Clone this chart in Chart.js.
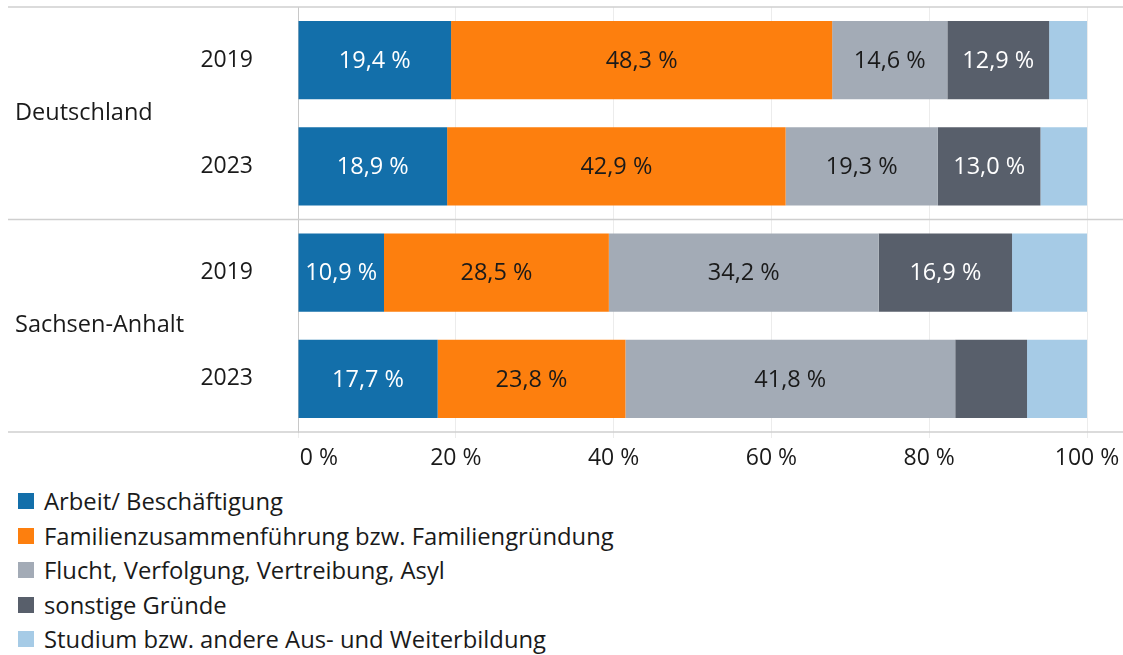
<!DOCTYPE html>
<html lang="de">
<head>
<meta charset="utf-8">
<script src="https://cdn.jsdelivr.net/npm/chart.js@4.4.1/dist/chart.umd.min.js"></script>
<style>
    body { margin: 0; background: #fff; font-family: "Open Sans", sans-serif; }
    #wrap { position: relative; width: 1123px; height: 480px; }
    #legende { position: absolute; left: 18px; top: 484px; }
    .leg-item { display: flex; align-items: center; height: 34.5px; font-size: 23.8px; color: #1a1a1a; }
    .leg-box { width: 16px; height: 16px; margin-right: 10px; }
</style>
</head>
<body>
<div id="wrap"><canvas id="gruendeChart"></canvas></div>
<div id="legende"></div>
<script>
const jahre = ['2019', '2023', '2019', '2023'];
const regionen = ['Deutschland', 'Sachsen-Anhalt'];
const xTicks = [0, 20, 40, 60, 80, 100];

const arbeit = [19.4, 18.9, 10.9, 17.7];
const familie = [48.3, 42.9, 28.5, 23.8];
const flucht = [14.6, 19.3, 34.2, 41.8];
const sonstige = [12.9, 13.0, 16.9, 9.1];
const studium = [4.8, 5.9, 9.5, 7.6];

const serien = [
    { label: 'Arbeit/ Beschäftigung', data: arbeit, color: '#136faa', text: '#ffffff' },
    { label: 'Familienzusammenführung bzw. Familiengründung', data: familie, color: '#fd7f0e', text: '#1a1a1a' },
    { label: 'Flucht, Verfolgung, Vertreibung, Asyl', data: flucht, color: '#a3abb6', text: '#1a1a1a' },
    { label: 'sonstige Gründe', data: sonstige, color: '#585f6b', text: '#ffffff' },
    { label: 'Studium bzw. andere Aus- und Weiterbildung', data: studium, color: '#a6cbe6', text: null }
];

const FONT = '"Open Sans", sans-serif';

// Trennlinien zwischen den Regionen + Regionsnamen
const gruppenPlugin = {
    id: 'gruppen',
    beforeDatasetsDraw(chart) {
        const { ctx, chartArea, scales: { y } } = chart;
        const half = (y.getPixelForValue(1) - y.getPixelForValue(0)) / 2;
        const linien = [chartArea.top, y.getPixelForValue(1) + half, chartArea.bottom];
        ctx.save();
        ctx.strokeStyle = '#cfcfcf';
        ctx.lineWidth = 1.5;
        linien.forEach(py => {
            ctx.beginPath();
            ctx.moveTo(8, py);
            ctx.lineTo(chart.width, py);
            ctx.stroke();
        });
        ctx.restore();
    },
    afterDraw(chart) {
        const { ctx, scales: { y } } = chart;
        ctx.save();
        ctx.font = '23.5px ' + FONT;
        ctx.fillStyle = '#1a1a1a';
        ctx.textAlign = 'left';
        ctx.textBaseline = 'middle';
        regionen.forEach((r, i) => {
            const py = (y.getPixelForValue(i * 2) + y.getPixelForValue(i * 2 + 1)) / 2;
            ctx.fillText(r, 15, py);
        });
        ctx.restore();
    }
};

// Prozentwerte in den Balken
const wertePlugin = {
    id: 'werte',
    afterDatasetsDraw(chart) {
        const { ctx } = chart;
        ctx.save();
        ctx.font = '23.5px ' + FONT;
        ctx.textAlign = 'center';
        ctx.textBaseline = 'middle';
        chart.data.datasets.forEach((ds, i) => {
            if (!serien[i].text) return;
            const meta = chart.getDatasetMeta(i);
            meta.data.forEach((bar, j) => {
                const v = ds.data[j];
                if (v < 10) return;
                ctx.fillStyle = serien[i].text;
                ctx.fillText(v.toFixed(1).replace('.', ',') + ' %', (bar.x + bar.base) / 2, bar.y + 1);
            });
        });
        ctx.restore();
    }
};

const chart = new Chart(document.getElementById('gruendeChart'), {
    type: 'bar',
    data: {
        labels: jahre,
        datasets: serien.map(s => ({
            label: s.label,
            data: s.data,
            backgroundColor: s.color,
            borderWidth: 0,
            categoryPercentage: 1,
            barPercentage: 0.735
        }))
    },
    options: {
        indexAxis: 'y',
        responsive: true,
        maintainAspectRatio: false,
        animation: false,
        layout: { padding: { top: 7, right: 36, bottom: 0, left: 0 } },
        plugins: {
            legend: { display: false },
            tooltip: { enabled: false }
        },
        scales: {
            x: {
                stacked: true,
                min: 0,
                max: 100,
                afterBuildTicks: s => { s.ticks = xTicks.map(v => ({ value: v })); },
                afterFit: s => {
                    s.height = 48;
                    s.paddingLeft = 0;
                    s.paddingRight = 0;
                },
                grid: { color: '#ececec', lineWidth: 1, tickLength: 6 },
                border: { display: false },
                ticks: {
                    font: { family: FONT, size: 23 },
                    color: '#1a1a1a',
                    padding: 7,
                    maxRotation: 0,
                    callback: v => v === 0 ? '       0 %' : v + ' %'
                }
            },
            y: {
                stacked: true,
                afterFit: s => {
                    s.width = 298;
                    s.paddingTop = 0;
                    s.paddingBottom = 0;
                },
                grid: { display: false, drawTicks: false },
                border: { display: true, color: '#c8c8c8', width: 1 },
                ticks: {
                    font: { family: FONT, size: 23 },
                    color: '#1a1a1a',
                    padding: 45
                }
            }
        }
    },
    plugins: [gruppenPlugin, wertePlugin]
});

const legende = document.getElementById('legende');
serien.forEach(s => {
    const item = document.createElement('div');
    item.className = 'leg-item';
    const box = document.createElement('span');
    box.className = 'leg-box';
    box.style.background = s.color;
    const txt = document.createElement('span');
    txt.textContent = s.label;
    item.appendChild(box);
    item.appendChild(txt);
    legende.appendChild(item);
});
</script>
</body>
</html>
